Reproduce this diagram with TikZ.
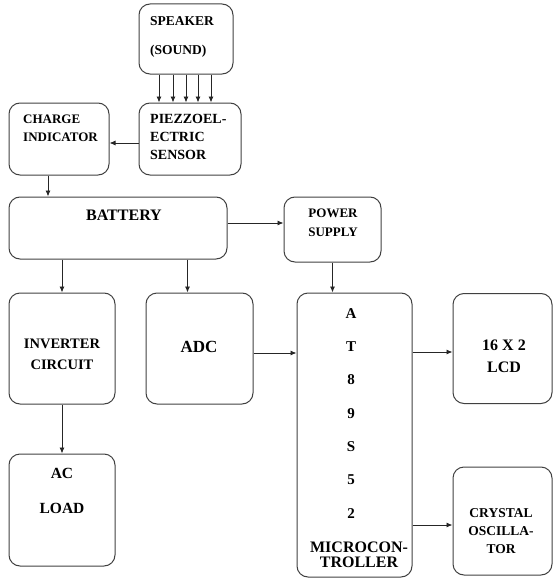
\documentclass[tikz,border=0pt]{standalone}
\usepackage{fontspec}
\setmainfont{Liberation Serif}
\usetikzlibrary{arrows.meta, positioning}

\newcommand{\fsz}[2]{\fontsize{#1}{#2}\selectfont\bfseries}

\tikzset{
    blk/.style={draw=black!75, line width=1pt, rounded corners=11pt, inner sep=0pt},
    txt/.style={font=\fsz{13}{18}, inner sep=0pt},
    arr/.style={-{Latex[length=6pt,width=5pt]}, line width=0.9pt, draw=black!85},
}

\begin{document}
\begin{tikzpicture}[x=1pt, y=-1pt]
    \useasboundingbox (0,0) rectangle (553,578);
    % boxes
    \node[blk, minimum width=94pt, minimum height=70pt] (spk) at (186,39) {};
    \node[blk, minimum width=102pt, minimum height=72pt] (pz) at (190,139) {};
    \node[blk, minimum width=100pt, minimum height=72pt] (chg) at (59,139) {};
    \node[blk, minimum width=218pt, minimum height=62pt] (bat) at (118,228) {};
    \node[blk, minimum width=97pt, minimum height=65pt] (ps) at (332.5,229.5) {};
    \node[blk, minimum width=106pt, minimum height=111pt] (inv) at (62,348.5) {};
    \node[blk, minimum width=107pt, minimum height=111pt] (adc) at (199.5,348.5) {};
    \node[blk, minimum width=115pt, minimum height=284pt] (mcu) at (354.5,435) {};
    \node[blk, minimum width=99pt, minimum height=110pt] (lcd) at (502.5,348.5) {};
    \node[blk, minimum width=106pt, minimum height=112pt] (ac) at (62,510) {};
    \node[blk, minimum width=99pt, minimum height=108pt] (xtal) at (502.5,521) {};

    % texts
    \node[txt, font=\fsz{13.5}{18}, anchor=west] (spkt) at (150,21) {SPEAKER};
    \node[txt, font=\fsz{13.5}{18}, anchor=west] (sndt) at (150,51) {(SOUND)};
    \node[txt, align=left, anchor=west] (chgt) at (23,128) {CHARGE\\INDICATOR};
    \node[txt, font=\fsz{14}{18}, align=left, anchor=west] (pzt) at (150,137) {PIEZZOEL-\\ECTRIC\\SENSOR};
    \node[txt, font=\fsz{16}{18}] (batt) at (124,215.5) {BATTERY};
    \node[txt, font=\fsz{13}{19}, align=center] (pst) at (333,222.5) {POWER\\SUPPLY};
    \node[txt, font=\fsz{14.5}{21}, align=center] (invt) at (62,354.5) {INVERTER\\CIRCUIT};
    \node[txt, font=\fsz{17}{18}] (adct) at (199,347) {ADC};
    \node[txt, font=\fsz{15.5}{18}] (act) at (62,473) {AC};
    \node[txt, font=\fsz{15.5}{18}] (loadt) at (62,508) {LOAD};
    \foreach \c [count=\i] in {A,T,8,9,S,5,2}
        \node[txt, font=\fsz{15}{18}] (mc\i) at (351,280+33.3*\i) {\c};
    \node[txt, font=\fsz{16}{15.5}, align=center] (mcut) at (359,555) {MICROCON-\\TROLLER};
    \node[txt, font=\fsz{16}{22}, align=center] (lcdt) at (504,356.5) {16 X 2\\LCD};
    \node[txt, font=\fsz{13.5}{18}, align=center] (xtalt) at (501,531) {CRYSTAL\\OSCILLA-\\TOR};

    % arrows
    \foreach \dx in {-27,-13,0,12,25}
        \draw[arr] ([xshift=\dx pt]spk.south) -- ([xshift=\dx pt]spk.south |- pz.north);
    \draw[arr] ([yshift=-4pt]pz.west) -- ([yshift=-4pt]pz.west -| chg.east);
    \draw[arr] ([xshift=-11pt]chg.south) -- ([xshift=-11pt]chg.south |- bat.north);
    \draw[arr] ([yshift=5pt]bat.east) -- ([yshift=5pt]bat.east -| ps.west);
    \draw[arr] (bat.south -| inv.north) -- (inv.north);
    \draw[arr] ([xshift=-12pt]adc.north |- bat.south) -- ([xshift=-12pt]adc.north);
    \draw[arr] (ps.south) -- (ps.south |- mcu.north);
    \draw[arr] ([yshift=-4.5pt]adc.east) -- ([yshift=-4.5pt]adc.east -| mcu.west);
    \draw[arr] (inv.south) -- (ac.north);
    \draw[arr] ([yshift=-3.5pt]lcd.west -| mcu.east) -- ([yshift=-3.5pt]lcd.west);
    \draw[arr] ([yshift=-4pt]xtal.west -| mcu.east) -- ([yshift=-4pt]xtal.west);
\end{tikzpicture}
\end{document}
